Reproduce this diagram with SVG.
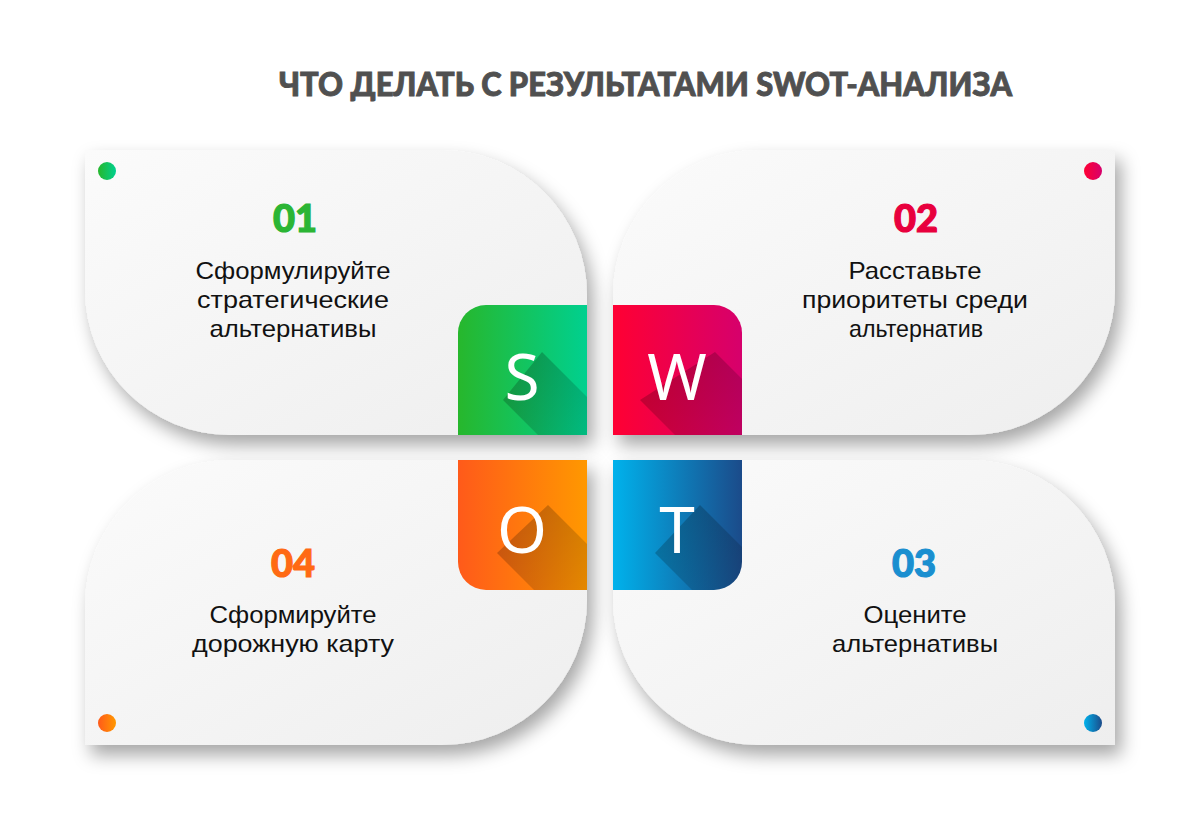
<svg xmlns="http://www.w3.org/2000/svg" width="1200" height="816" viewBox="0 0 1200 816">
<style>
.title{font-family:Lato,"Liberation Sans",sans-serif;font-weight:900;font-size:32px;fill:#505050;stroke:#505050;stroke-width:0.9}
.num{font-family:Lato,"Liberation Sans",sans-serif;font-weight:900;font-size:38px;text-anchor:middle;stroke-width:1.2}
.body{font-family:"Liberation Sans",Arial,sans-serif;font-size:24px;fill:#111;text-anchor:middle}
.letter{font-family:"Noto Sans","Open Sans","Liberation Sans",sans-serif;font-size:64px;fill:#fff;text-anchor:middle}
.card{fill:url(#cardGrad);filter:url(#shadow)}
</style>
<defs>
<filter id="shadow" x="-10%" y="-10%" width="125%" height="135%">
<feDropShadow dx="6" dy="10" stdDeviation="9" flood-color="#000" flood-opacity="0.35"/>
</filter>
<linearGradient id="cardGrad" x1="0" y1="0" x2="1" y2="1">
<stop offset="0" stop-color="#fbfbfb"/>
<stop offset="1" stop-color="#eeeeee"/>
</linearGradient>
<linearGradient id="gS" x1="0" y1="0" x2="1" y2="0"><stop offset="0" stop-color="#27b72c"/><stop offset="1" stop-color="#00d08f"/></linearGradient>
<linearGradient id="gW" x1="0" y1="0" x2="1" y2="0"><stop offset="0" stop-color="#ff0033"/><stop offset="1" stop-color="#d6006c"/></linearGradient>
<linearGradient id="gO" x1="0" y1="0" x2="1" y2="0"><stop offset="0" stop-color="#ff5a1a"/><stop offset="1" stop-color="#ff9800"/></linearGradient>
<linearGradient id="gT" x1="0" y1="0" x2="1" y2="0"><stop offset="0" stop-color="#00b2ec"/><stop offset="1" stop-color="#1b4b8a"/></linearGradient>
<linearGradient id="ls" x1="0" y1="0" x2="1" y2="1"><stop offset="0" stop-color="#000" stop-opacity="0.25"/><stop offset="1" stop-color="#000" stop-opacity="0"/></linearGradient>
<clipPath id="cS"><path d="M458,333 A28,28 0 0 1 486,305 H587 V435 H458 Z"/></clipPath>
<clipPath id="cW"><path d="M613,305 H714 A28,28 0 0 1 742,333 V435 H613 Z"/></clipPath>
<clipPath id="cO"><path d="M458,460 H587 V590 H486 A28,28 0 0 1 458,562 Z"/></clipPath>
<clipPath id="cT"><path d="M613,460 H742 V562 A28,28 0 0 1 714,590 H613 Z"/></clipPath>
</defs>
<rect width="1200" height="816" fill="#fff"/>
<text class="title" x="279" y="96" textLength="733" lengthAdjust="spacingAndGlyphs">ЧТО ДЕЛАТЬ С РЕЗУЛЬТАТАМИ SWOT-АНАЛИЗА</text>

<g id="card1">
<path class="card" d="M85,150 H442 A145,145 0 0 1 587,295 V435 H230 A145,145 0 0 1 85,290 Z"/>
<circle cx="107" cy="171" r="9" fill="url(#gS)"/>
<text class="num" x="295" y="232" fill="#2bb534" stroke="#2bb534">01</text>
<text class="body" x="293" y="279" textLength="195" lengthAdjust="spacingAndGlyphs">Сформулируйте</text>
<text class="body" x="293" y="308" textLength="192" lengthAdjust="spacingAndGlyphs">стратегические</text>
<text class="body" x="293" y="337" textLength="167" lengthAdjust="spacingAndGlyphs">альтернативы</text>
<g clip-path="url(#cS)">
<rect x="458" y="305" width="129" height="130" fill="url(#gS)"/>
<polygon points="542,352 642,452 603,500 503,400" fill="url(#ls)"/>
</g>
<text class="letter" x="522" y="400">S</text>
</g>

<g id="card2">
<path class="card" d="M758,150 H1115 V290 A145,145 0 0 1 970,435 H613 V295 A145,145 0 0 1 758,150 Z"/>
<circle cx="1093" cy="171" r="9" fill="url(#gW)"/>
<text class="num" x="916" y="232" fill="#e8003d" stroke="#e8003d">02</text>
<text class="body" x="915" y="279" textLength="133" lengthAdjust="spacingAndGlyphs">Расставьте</text>
<text class="body" x="915" y="308" textLength="226" lengthAdjust="spacingAndGlyphs">приоритеты среди</text>
<text class="body" x="916" y="337" textLength="134" lengthAdjust="spacingAndGlyphs">альтернатив</text>
<g clip-path="url(#cW)">
<rect x="613" y="305" width="129" height="130" fill="url(#gW)"/>
<polygon points="715,352 815,452 740,500 640,400" fill="url(#ls)"/>
</g>
<text class="letter" x="677" y="400">W</text>
</g>

<g id="card3">
<path class="card" d="M613,460 H970 A145,145 0 0 1 1115,605 V745 H758 A145,145 0 0 1 613,600 Z"/>
<circle cx="1093" cy="723" r="9" fill="url(#gT)"/>
<text class="num" x="914" y="577" fill="#1a8fd0" stroke="#1a8fd0">03</text>
<text class="body" x="915" y="623" textLength="103" lengthAdjust="spacingAndGlyphs">Оцените</text>
<text class="body" x="915" y="652" textLength="166" lengthAdjust="spacingAndGlyphs">альтернативы</text>
<g clip-path="url(#cT)">
<rect x="613" y="460" width="129" height="130" fill="url(#gT)"/>
<polygon points="700,505 800,605 755,653 655,553" fill="url(#ls)"/>
</g>
<text class="letter" x="677" y="553">T</text>
</g>

<g id="card4">
<path class="card" d="M230,460 H587 V600 A145,145 0 0 1 442,745 H85 V605 A145,145 0 0 1 230,460 Z"/>
<circle cx="107" cy="723" r="9" fill="url(#gO)"/>
<text class="num" x="293" y="577" fill="#ff6a13" stroke="#ff6a13">04</text>
<text class="body" x="293" y="623" textLength="167" lengthAdjust="spacingAndGlyphs">Сформируйте</text>
<text class="body" x="293" y="652" textLength="202" lengthAdjust="spacingAndGlyphs">дорожную карту</text>
<g clip-path="url(#cO)">
<rect x="458" y="460" width="129" height="130" fill="url(#gO)"/>
<polygon points="548,505 648,605 597,653 497,553" fill="url(#ls)"/>
</g>
<text class="letter" x="522" y="553">O</text>
</g>

<g id="connectors"></g>
</svg>
